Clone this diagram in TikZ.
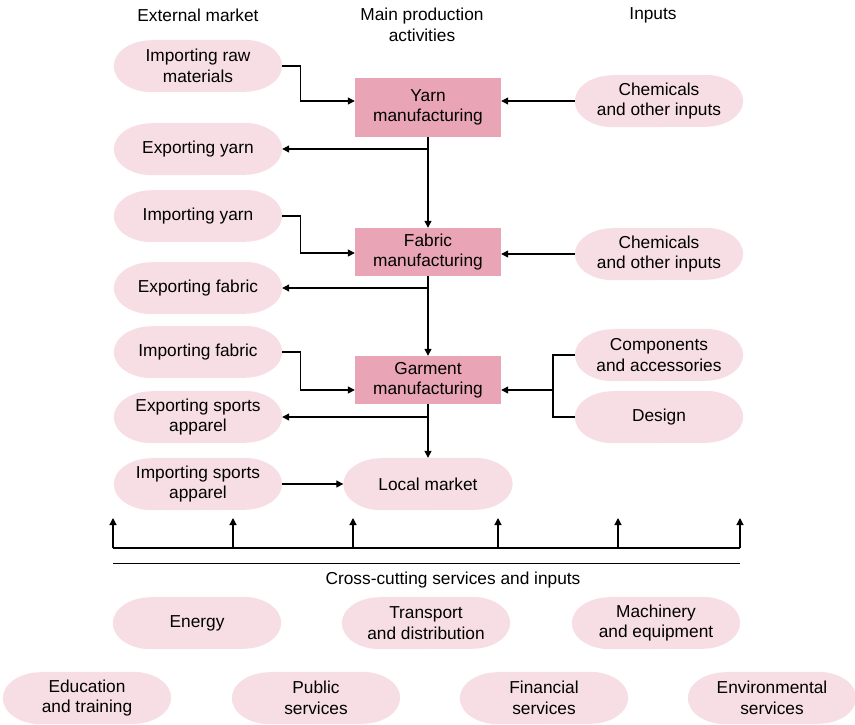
\documentclass[tikz,border=0pt]{standalone}
\usepackage{fontspec}
\setmainfont{Liberation Sans}
\usetikzlibrary{arrows.meta}
\definecolor{pillpink}{HTML}{F6DEE4}
\definecolor{boxpink}{HTML}{E9A4B5}
\pgfdeclarelayer{background}
\pgfsetlayers{background,main}
\newcommand{\pillbg}[1]{%
  \begin{pgfonlayer}{background}
  \fill[pillpink] ([xshift=38pt]#1.north west) -- ([xshift=-38pt]#1.north east)
    arc[start angle=90, end angle=-90, x radius=38pt, y radius=26pt]
    -- ([xshift=38pt]#1.south west)
    arc[start angle=270, end angle=90, x radius=38pt, y radius=26pt] -- cycle;
  \end{pgfonlayer}}
\begin{document}
\begin{tikzpicture}[x=1pt,y=-1pt,
  every node/.style={font=\fontsize{17.3}{20.5}\selectfont, align=center, inner sep=0pt},
  pill/.style={draw=none, minimum width=168pt, minimum height=52pt},
  mbox/.style={fill=boxpink, draw=none, minimum width=146pt},
  arr/.style={line width=1.2pt, -{Triangle[length=7pt,width=7pt]}},
  ln/.style={line width=1.2pt}]
\useasboundingbox (0,0) rectangle (855,724);
% headings
\node (h1) at (198,15) {External market};
\node (h2) at (422,25) {Main production\\activities};
\node (h3) at (653,15) {Inputs};
% left column
\node[pill] (irm) at (198,66) {Importing raw\\materials};
\node[pill] (ey) at (198,149) {Exporting yarn};
\node[pill] (iy) at (198,216) {Importing yarn};
\node[pill] (ef) at (198,288) {Exporting fabric};
\node[pill] (ifb) at (198,352) {Importing fabric};
\node[pill] (esa) at (198,417) {Exporting sports\\apparel};
\node[pill] (isa) at (198,484) {Importing sports\\apparel};
% main boxes
\node[mbox, minimum height=59pt] (yarn) at (428,107.5) {Yarn\\manufacturing};
\node[mbox, minimum height=48pt] (fabric) at (428,252) {Fabric\\manufacturing};
\node[mbox, minimum height=48pt] (garment) at (428,380) {Garment\\manufacturing};
\node[pill, minimum width=169pt] (local) at (428,484) {Local market};
% right column
\node[pill] (chem1) at (659,101) {Chemicals\\and other inputs};
\node[pill] (chem2) at (659,254) {Chemicals\\and other inputs};
\node[pill] (comp) at (659,355) {Components\\and accessories};
\node[pill] (design) at (659,417) {Design};
% connectors
\draw[arr] (irm.east) -- ++(18,0) |- ([yshift=6.5pt]yarn.west);
\draw[arr] (chem1.west) -- (chem1.west -| yarn.east);
\draw[arr] (yarn.south) -- (fabric.north);
\draw[arr] (yarn.south |- ey.east) -- (ey.east);
\draw[arr] (iy.east) -- ++(18,0) |- ([yshift=-1pt]fabric.west);
\draw[arr] (chem2.west) -- (chem2.west -| fabric.east);
\draw[arr] (fabric.south) -- (garment.north);
\draw[arr] (fabric.south |- ef.east) -- (ef.east);
\draw[arr] (ifb.east) -- ++(18,0) |- ([yshift=-10pt]garment.west);
\coordinate (br) at (553,390);
\draw[ln] (comp.west) -- (comp.west -| br) -- (design.west -| br) -- (design.west);
\draw[arr] (br) -- (br -| garment.east);
\draw[arr] (garment.south) -- (local.north);
\draw[arr] (garment.south |- esa.east) -- (esa.east);
\draw[arr] (isa.east) -- (local.west);
% bus
\coordinate (b1) at (113,548);
\coordinate (b2) at (233,548);
\coordinate (b3) at (353,548);
\coordinate (b4) at (498,548);
\coordinate (b5) at (618,548);
\coordinate (b6) at (740,548);
\draw[ln] (b1) -- (b6);
\foreach \b in {b1,b2,b3,b4,b5,b6}{\draw[arr] (\b) -- ++(0,-30);}
\coordinate (s1) at (113,563);
\coordinate (s2) at (740,563);
\draw[line width=1pt] (s1) -- (s2);
\node (cc) at (453,580) {Cross-cutting services and inputs};
% bottom pills
\node[pill] (energy) at (197,623) {Energy};
\node[pill] (transport) at (426,623) {Transport\\and distribution};
\node[pill] (mach) at (656,623) {Machinery\\and equipment};
\node[pill] (edu) at (87,698) {Education\\and training};
\node[pill] (pub) at (316,698) {Public\\services};
\node[pill] (fin) at (544,698) {Financial\\services};
\node[pill] (env) at (772,698) {Environmental\\services};
% pill backgrounds
\foreach \n in {irm,ey,iy,ef,ifb,esa,isa,local,chem1,chem2,comp,design,energy,transport,mach,edu,pub,fin,env}{\pillbg{\n}}
\end{tikzpicture}
\end{document}
